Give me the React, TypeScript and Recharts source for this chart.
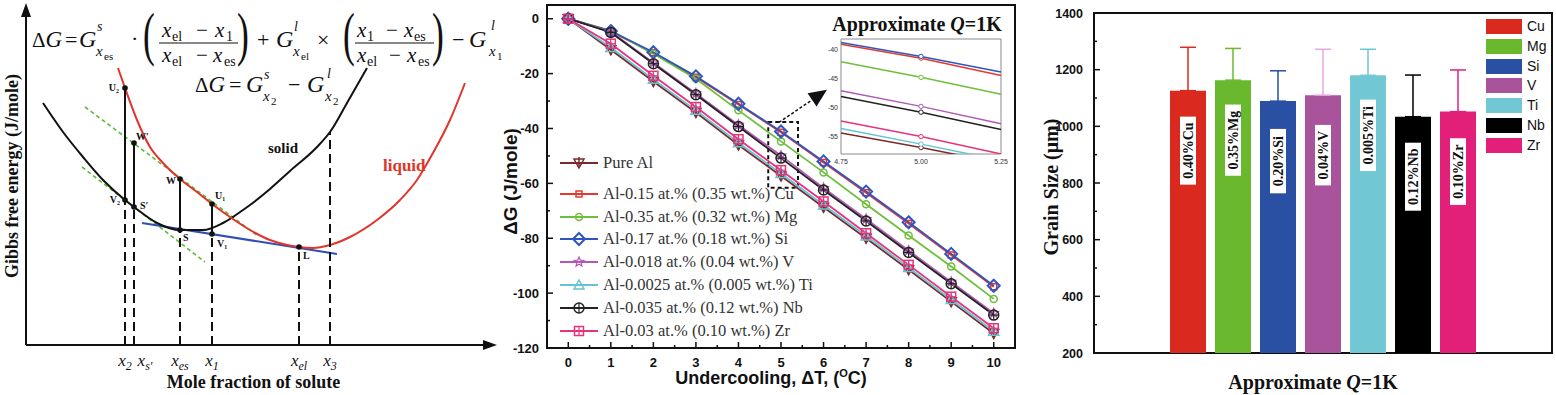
import React from "react";
import {
  Bar,
  BarChart,
  ComposedChart,
  Customized,
  ErrorBar,
  LabelList,
  Line,
  LineChart,
  ReferenceArea,
  ReferenceDot,
  ReferenceLine,
  XAxis,
  YAxis
} from "recharts";

document.body.style.margin = "0";

const SERIF = '"Liberation Serif", "Times New Roman", serif';
const SANS = '"Liberation Sans", Arial, sans-serif';

// ---------- left: schematic Gibbs energy curves (sketch units) ----------
const solidCurve = [
  [17, 242], [37, 213], [57, 188], [77, 165], [99, 145], [108, 138], [131, 122], [154, 115],
  [177, 115], [197, 122], [217, 135], [224, 140], [244, 156], [264, 174], [291, 198], [304, 213],
  [321, 242], [341, 277]
];
const liquidCurve = [
  [92, 277], [99, 257], [111, 225], [124, 198], [137, 182], [154, 166], [171, 153], [186, 141],
  [204, 128], [224, 115], [244, 105], [257, 101], [273, 98], [287, 97], [304, 100], [324, 108],
  [351, 125], [374, 145], [391, 165], [407, 192], [424, 225], [439, 262]
];
const commonTangent = [[116, 122], [311, 91]];
const tangentUpper = [[59, 238], [232, 109]];
const tangentLower = [[56, 178], [179, 83]];

const compositions = [99, 108, 154, 186, 273, 304];
const compositionSubs = ["2", "s′", "es", "1", "el", "3"];
const dropTops = [145, 138, 115, 111, 98, 213];
const tieXs = [99, 108, 154, 186];
const tieTops = [257, 202, 166, 141];
const tieBottoms = [145, 138, 115, 111];

const pointNames = ["U₂", "W′", "V₂", "S′", "W", "S", "U₁", "V₁", "L"];
const pointXs = [99, 108, 99, 108, 154, 154, 186, 186, 273];
const pointYs = [257, 202, 145, 138, 166, 115, 141, 111, 98];
// label placement next to each point: dx, dy, anchor
const pointLabelPos: [number, number, string][] = [
  [-6, 3, "end"], [2, -3, "start"], [-5, 3, "end"], [6, 2, "start"], [-4, 5, "end"],
  [3, 11, "start"], [3, -5, "start"], [5, 13, "start"], [4, 12, "start"]
];

// ---------- middle: ΔG vs undercooling ----------
const deltaT = [0, 1, 2, 3, 4, 5, 6, 7, 8, 9, 10];
const dgPureAl = [0, -11.3, -22.9, -34.2, -46.0, -57.3, -68.7, -80.0, -91.5, -103.1, -114.7];
const dgCu = [0, -4.7, -12.4, -21.3, -31.3, -41.4, -52.4, -63.4, -74.6, -86.1, -97.7];
const dgMg = [0, -4.3, -12.8, -21.9, -33.4, -44.7, -56.0, -67.6, -79.0, -90.3, -102.1];
const dgSi = [0, -4.5, -12.2, -21.0, -31.0, -41.1, -52.0, -63.0, -74.2, -85.7, -97.3];
const dgV = [0, -4.8, -16.0, -27.2, -38.7, -49.9, -61.7, -73.0, -84.5, -95.9, -107.3];
const dgTi = [0, -10.5, -22.1, -33.4, -45.2, -56.4, -67.9, -79.2, -90.7, -102.3, -113.9];
const dgNb = [0, -5.0, -16.4, -27.7, -39.3, -50.8, -62.4, -73.7, -85.2, -96.6, -108.0];
const dgZr = [0, -9.1, -20.8, -32.2, -43.9, -55.2, -66.6, -78.2, -89.7, -101.3, -112.8];

const dtTicks = [0, 0.5, 1, 1.5, 2, 2.5, 3, 3.5, 4, 4.5, 5, 5.5, 6, 6.5, 7, 7.5, 8, 8.5, 9, 9.5, 10];
const dgTicks = [-120, -110, -100, -90, -80, -70, -60, -50, -40, -30, -20, -10, 0];

// zoomed inset around ΔT = 5
const insetT = [4.75, 5.0, 5.25];
const insetPureAl = [-54.4, -56.9, -59.6];
const insetCu = [-39.1, -41.5, -44.5];
const insetMg = [-42.1, -44.8, -47.7];
const insetSi = [-38.8, -41.2, -43.9];
const insetV = [-47.1, -49.8, -52.8];
const insetTi = [-53.6, -56.3, -59.1];
const insetNb = [-48.1, -50.8, -53.8];
const insetZr = [-52.3, -55.0, -58.0];
const insetYTicks = [-55, -50, -45, -40];
const insetXTicks = [4.75, 5.0, 5.25];

const alloys = [
  { key: "pureAl", name: "Pure Al", color: "#7B2A2A", marker: "triDown", main: dgPureAl, inset: insetPureAl },
  { key: "cu", name: "Al-0.15 at.% (0.35 wt.%) Cu", color: "#E3392E", marker: "square", main: dgCu, inset: insetCu },
  { key: "mg", name: "Al-0.35 at.% (0.32 wt.%) Mg", color: "#6DBF3C", marker: "circle", main: dgMg, inset: insetMg },
  { key: "si", name: "Al-0.17 at.% (0.18 wt.%) Si", color: "#2F55C0", marker: "diamond", main: dgSi, inset: insetSi },
  { key: "v", name: "Al-0.018 at.% (0.04 wt.%) V", color: "#B05AB4", marker: "star", main: dgV, inset: insetV },
  { key: "ti", name: "Al-0.0025 at.% (0.005 wt.%) Ti", color: "#62C4D4", marker: "triangle", main: dgTi, inset: insetTi },
  { key: "nb", name: "Al-0.035 at.% (0.12 wt.%) Nb", color: "#222222", marker: "circlePlus", main: dgNb, inset: insetNb },
  { key: "zr", name: "Al-0.03 at.% (0.10 wt.%) Zr", color: "#E8327C", marker: "squarePlus", main: dgZr, inset: insetZr }
];
const legendRowY = [163, 194, 217, 239, 262, 285, 308, 331];

// ---------- right: grain size bars ----------
const elements = ["Cu", "Mg", "Si", "V", "Ti", "Nb", "Zr"];
const grainSize = [1126, 1163, 1089, 1110, 1180, 1034, 1052];
const grainErr = [153, 112, 107, 162, 92, 147, 147];
const grainLabels = ["0.40%Cu", "0.35%Mg", "0.20%Si", "0.04%V", "0.005%Ti", "0.12%Nb", "0.10%Zr"];
const grainTicks = [200, 300, 400, 500, 600, 700, 800, 900, 1000, 1100, 1200, 1300, 1400];
const barColors = ["#DA2A20", "#6AB82E", "#2950A3", "#A8539C", "#71C7D3", "#000000", "#E2207A"];
const errColors = ["#DA2A20", "#6AB82E", "#2950A3", "#E9A6E2", "#71C7D3", "#000000", "#E2207A"];

// one table keyed by composition, every curve in its own column (gaps bridged by connectNulls)
const gibbsCurves: Record<string, number[][]> = {
  solid: solidCurve,
  liquid: liquidCurve,
  tangent: commonTangent,
  upper: tangentUpper,
  lower: tangentLower
};
const gibbsRows = (() => {
  const byX = new Map<number, any>();
  Object.entries(gibbsCurves).forEach(([key, list]) =>
    list.forEach(([x, y]) => {
      const row = byX.get(x) ?? { x };
      row[key] = y;
      byX.set(x, row);
    })
  );
  return [...byX.values()].sort((a, b) => a.x - b.x);
})();

function Marker({ kind, cx, cy, color, s = 1 }: any) {
  const c = { fill: "none", stroke: color, strokeWidth: 1.5 };
  switch (kind) {
    case "triDown":
      return (
        <g>
          <polygon points={`${cx - 5 * s},${cy - 4 * s} ${cx + 5 * s},${cy - 4 * s} ${cx},${cy + 5 * s}`} {...c} />
          <line x1={cx} y1={cy - 6 * s} x2={cx} y2={cy + 5 * s} stroke={color} strokeWidth={1.5} />
        </g>
      );
    case "square":
      return <rect x={cx - 3 * s} y={cy - 3 * s} width={6 * s} height={6 * s} {...c} />;
    case "circle":
      return <circle cx={cx} cy={cy} r={3.5 * s} {...c} />;
    case "diamond":
      return (
        <polygon
          points={`${cx},${cy - 6 * s} ${cx + 6 * s},${cy} ${cx},${cy + 6 * s} ${cx - 6 * s},${cy}`}
          {...c}
          strokeWidth={2}
        />
      );
    case "star": {
      const p: string[] = [];
      for (let k = 0; k < 10; k++) {
        const r = (k % 2 === 0 ? 5 : 2.2) * s;
        const a = -Math.PI / 2 + (k * Math.PI) / 5;
        p.push(`${cx + r * Math.cos(a)},${cy + r * Math.sin(a)}`);
      }
      return <polygon points={p.join(" ")} {...c} strokeWidth={1.2} />;
    }
    case "triangle":
      return <polygon points={`${cx},${cy - 5 * s} ${cx + 5 * s},${cy + 4 * s} ${cx - 5 * s},${cy + 4 * s}`} {...c} />;
    case "circlePlus":
      return (
        <g>
          <circle cx={cx} cy={cy} r={5 * s} {...c} />
          <line x1={cx - 5 * s} x2={cx + 5 * s} y1={cy} y2={cy} stroke={color} strokeWidth={1.2} />
          <line x1={cx} x2={cx} y1={cy - 5 * s} y2={cy + 5 * s} stroke={color} strokeWidth={1.2} />
        </g>
      );
    case "squarePlus":
      return (
        <g>
          <rect x={cx - 4.5 * s} y={cy - 4.5 * s} width={9 * s} height={9 * s} {...c} />
          <line x1={cx - 4.5 * s} x2={cx + 4.5 * s} y1={cy} y2={cy} stroke={color} strokeWidth={1.2} />
          <line x1={cx} x2={cx} y1={cy - 4.5 * s} y2={cy + 4.5 * s} stroke={color} strokeWidth={1.2} />
        </g>
      );
    default:
      return null;
  }
}

const arrowShape = (color: string, width: number, head: number, half: number, dash?: string) => (p: any) => {
  const { x1, y1, x2, y2 } = p;
  const len = Math.hypot(x2 - x1, y2 - y1) || 1;
  const ux = (x2 - x1) / len;
  const uy = (y2 - y1) / len;
  const bx = x2 - ux * head;
  const by = y2 - uy * head;
  return (
    <g>
      <line x1={x1} y1={y1} x2={bx} y2={by} stroke={color} strokeWidth={width} strokeDasharray={dash} />
      <polygon
        points={`${x2},${y2} ${bx - uy * half},${by + ux * half} ${bx + uy * half},${by - ux * half}`}
        fill={color}
      />
    </g>
  );
};

// ---------- left panel ----------
function GibbsFormulas() {
  const t = { fontFamily: SERIF, fill: "#111" };
  const G = (x: number, y: number) => (
    <text x={x} y={y} fontSize={24} fontStyle="italic" {...t}>G</text>
  );
  const small = (x: number, y: number, s: string, italic = false, size = 14) => (
    <text x={x} y={y} fontSize={size} fontStyle={italic ? "italic" : "normal"} {...t}>{s}</text>
  );
  const paren = (x: number, s: string) => (
    <text transform={`translate(${x},54) scale(0.6,1)`} fontSize={59} {...t}>{s}</text>
  );
  return (
    <g>
      {/* ΔG = G^s_xes · (..) + G^l_xel × (..) − G^l_x1 */}
      <text x={32} y={47} fontSize={21} {...t}>Δ<tspan fontStyle="italic" fontSize={23}>G</tspan></text>
      <text x={65} y={47} fontSize={22} {...t}>=</text>
      {G(79, 47)}
      {small(97, 31, "s", true)}
      {small(96, 56, "x", true, 15)}
      {small(104, 60, "es", false, 11)}
      <text x={131} y={46} fontSize={22} {...t}>·</text>
      {paren(143, "(")}
      {small(162, 37, "x", true, 21)}
      {small(172, 41, "el", false, 14)}
      <text x={196} y={37} fontSize={21} {...t}>−</text>
      {small(215, 37, "x", true, 21)}
      {small(226, 41, "1", false, 14)}
      <line x1={159} x2={238} y1={43} y2={43} stroke="#111" strokeWidth={1.2} />
      {small(162, 62, "x", true, 21)}
      {small(172, 66, "el", false, 14)}
      <text x={196} y={62} fontSize={21} {...t}>−</text>
      {small(213, 62, "x", true, 21)}
      {small(224, 66, "es", false, 14)}
      {paren(237, ")")}
      <text x={257} y={47} fontSize={22} {...t}>+</text>
      {G(276, 47)}
      {small(294, 31, "l", true)}
      {small(293, 56, "x", true, 15)}
      {small(301, 60, "el", false, 11)}
      <text x={317} y={47} fontSize={22} {...t}>×</text>
      {paren(343, "(")}
      {small(357, 37, "x", true, 21)}
      {small(367, 41, "1", false, 14)}
      <text x={386} y={37} fontSize={21} {...t}>−</text>
      {small(404, 37, "x", true, 21)}
      {small(414, 41, "es", false, 14)}
      <line x1={355} x2={434} y1={43} y2={43} stroke="#111" strokeWidth={1.2} />
      {small(357, 62, "x", true, 21)}
      {small(367, 66, "el", false, 14)}
      <text x={389} y={62} fontSize={21} {...t}>−</text>
      {small(407, 62, "x", true, 21)}
      {small(418, 66, "es", false, 14)}
      {paren(432, ")")}
      <text x={452} y={47} fontSize={22} {...t}>−</text>
      {G(469, 47)}
      {small(491, 30, "l", true)}
      {small(489, 56, "x", true, 15)}
      {small(497, 60, "1", false, 11)}

      {/* ΔG = G^s_x2 − G^l_x2 */}
      <text x={195} y={92} fontSize={21} {...t}>Δ<tspan fontStyle="italic" fontSize={23}>G</tspan></text>
      <text x={229} y={92} fontSize={22} {...t}>=</text>
      {G(246, 92)}
      {small(264, 79, "s", true)}
      {small(263, 101, "x", true, 15)}
      {small(271, 105, "2", false, 11)}
      <text x={288} y={92} fontSize={22} {...t}>−</text>
      {G(307, 92)}
      {small(327, 78, "l", true)}
      {small(325, 101, "x", true, 15)}
      {small(333, 105, "2", false, 11)}
    </g>
  );
}

const GibbsTick = (p: any) => {
  const i = compositions.indexOf(p.payload.value);
  const shift = i === 1 ? 11 : 0;
  return (
    <text x={p.x + shift} y={p.y + 21} textAnchor="middle" fontFamily={SERIF} fontSize={17} fontStyle="italic" fill="#111">
      x<tspan fontSize={12} dy={4}>{compositionSubs[i]}</tspan>
    </text>
  );
};

function GibbsPanel() {
  return (
    <ComposedChart width={520} height={395} data={gibbsRows} margin={{ top: 3, right: 23, bottom: 0, left: 0 }}>
      <XAxis
        type="number"
        dataKey="x"
        domain={[0, 471]}
        ticks={compositions}
        interval={0}
        height={50}
        axisLine={false}
        tickLine={false}
        tickSize={0}
        tickMargin={0}
        tick={GibbsTick}
        label={(p: any) => (
          <text
            x={p.viewBox.x + p.viewBox.width / 2 - 8}
            y={p.viewBox.y + 43}
            textAnchor="middle"
            fontFamily={SERIF}
            fontWeight="bold"
            fontSize={18}
            fill="#111"
          >
            Mole fraction of solute
          </text>
        )}
      />
      <YAxis
        type="number"
        domain={[0, 342]}
        width={26}
        axisLine={false}
        tickLine={false}
        tick={false}
        label={(p: any) => (
          <text
            transform={`translate(${p.viewBox.x + 12},176) rotate(-90)`}
            textAnchor="middle"
            dy={6}
            fontFamily={SERIF}
            fontWeight="bold"
            fontSize={18}
            fill="#111"
          >
            Gibbs free energy (J/mole)
          </text>
        )}
      />
      <Line dataKey="upper" connectNulls stroke="#5DBB3A" strokeWidth={1.6} strokeDasharray="4 3" dot={false} isAnimationActive={false} />
      <Line dataKey="lower" connectNulls stroke="#5DBB3A" strokeWidth={1.6} strokeDasharray="4 3" dot={false} isAnimationActive={false} />
      <Line dataKey="tangent" connectNulls stroke="#2F4FB5" strokeWidth={2} dot={false} isAnimationActive={false} />
      <Line dataKey="solid" connectNulls type="monotone" stroke="#111" strokeWidth={2} dot={false} isAnimationActive={false} />
      <Line dataKey="liquid" connectNulls type="monotone" stroke="#E0352B" strokeWidth={2} dot={false} isAnimationActive={false} />

      {compositions.map((c, i) => (
        <ReferenceLine
          key={`drop-${c}`}
          segment={[{ x: c, y: 0 }, { x: c, y: dropTops[i] }]}
          stroke="#111"
          strokeWidth={2}
          strokeDasharray="9 5"
        />
      ))}
      {tieXs.map((c, i) => (
        <ReferenceLine
          key={`tie-${c}`}
          segment={[{ x: c, y: tieBottoms[i] }, { x: c, y: tieTops[i] }]}
          stroke="#111"
          strokeWidth={2}
        />
      ))}
      <ReferenceLine segment={[{ x: 0, y: 0 }, { x: 471, y: 0 }]} shape={arrowShape("#111", 2, 14, 5)} />
      <ReferenceLine segment={[{ x: 0, y: 0 }, { x: 0, y: 342 }]} shape={arrowShape("#111", 2, 14, 5)} />

      {pointNames.map((name, i) => (
        <ReferenceDot
          key={`pt-${i}`}
          x={pointXs[i]}
          y={pointYs[i]}
          r={3}
          shape={(p: any) => (
            <g>
              <circle cx={p.cx} cy={p.cy} r={2.8} fill="#111" />
              <text
                x={p.cx + pointLabelPos[i][0]}
                y={p.cy + pointLabelPos[i][1]}
                textAnchor={pointLabelPos[i][2] as any}
                fontFamily={SERIF}
                fontWeight="bold"
                fontSize={10}
                fill="#111"
              >
                {name}
              </text>
            </g>
          )}
        />
      ))}
      <ReferenceDot
        x={242}
        y={192}
        r={1}
        shape={(p: any) => (
          <text x={p.cx} y={p.cy} fontFamily={SERIF} fontWeight="bold" fontSize={15} fill="#111">solid</text>
        )}
      />
      <ReferenceDot
        x={357}
        y={174}
        r={1}
        shape={(p: any) => (
          <text x={p.cx} y={p.cy} fontFamily={SERIF} fontWeight="bold" fontSize={17} fill="#E0352B">liquid</text>
        )}
      />
      <Customized component={GibbsFormulas} />
    </ComposedChart>
  );
}

// ---------- middle panel ----------
const dgRows = deltaT.map((t, i) => {
  const row: any = { t };
  alloys.forEach((a) => (row[a.key] = a.main[i]));
  return row;
});
const insetRows = insetT.map((t, i) => {
  const row: any = { t };
  alloys.forEach((a) => (row[a.key] = a.inset[i]));
  return row;
});

const DtTick = (p: any) => {
  const v = p.payload.value;
  const major = Number.isInteger(v);
  return (
    <g>
      <line x1={p.x} x2={p.x} y1={p.y} y2={p.y - (major ? 6 : 3)} stroke="#111" strokeWidth={1.5} />
      {major && (
        <text x={p.x} y={p.y + 19} textAnchor="middle" fontFamily={SANS} fontWeight="bold" fontSize={13} fill="#111">
          {v}
        </text>
      )}
    </g>
  );
};

const DgTick = (p: any) => {
  const v = p.payload.value;
  const major = v % 20 === 0;
  return (
    <g>
      <line x1={p.x} x2={p.x + (major ? 6 : 3)} y1={p.y} y2={p.y} stroke="#111" strokeWidth={1.5} />
      {major && (
        <text x={p.x - 8} y={p.y + 4.5} textAnchor="end" fontFamily={SANS} fontWeight="bold" fontSize={13} fill="#111">
          {v}
        </text>
      )}
    </g>
  );
};

function UndercoolingPanel() {
  return (
    <LineChart width={540} height={395} data={dgRows} margin={{ top: 5, right: 25, bottom: 0, left: 0 }}>
      <XAxis
        type="number"
        dataKey="t"
        domain={[-0.5, 10.5]}
        ticks={dtTicks}
        interval={0}
        height={47}
        axisLine={false}
        tickLine={false}
        tickSize={0}
        tickMargin={0}
        tick={DtTick}
        label={(p: any) => (
          <text
            x={p.viewBox.x + p.viewBox.width / 2 - 10}
            y={p.viewBox.y + 36}
            textAnchor="middle"
            fontFamily={SANS}
            fontWeight="bold"
            fontSize={18}
            fill="#111"
          >
            Undercooling, ΔT, (<tspan dy={-7} fontSize={11}>O</tspan>
            <tspan dy={7}>C)</tspan>
          </text>
        )}
      />
      <YAxis
        type="number"
        domain={[-120, 5]}
        ticks={dgTicks}
        interval={0}
        width={47}
        axisLine={false}
        tickLine={false}
        tickSize={0}
        tickMargin={0}
        tick={DgTick}
        label={(p: any) => (
          <text
            transform={`translate(${p.viewBox.x + 10},${p.viewBox.y + p.viewBox.height / 2 + 5}) rotate(-90)`}
            textAnchor="middle"
            dy={7}
            fontFamily={SANS}
            fontWeight="bold"
            fontSize={19}
            fill="#111"
          >
            ΔG (J/mole)
          </text>
        )}
      />
      <ReferenceArea x1={-0.5} x2={10.5} y1={-120} y2={5} fill="none" stroke="#111" strokeWidth={2} />
      <ReferenceArea x1={4.7} x2={5.4} y1={-61.6} y2={-37.6} fill="none" stroke="#111" strokeWidth={2} strokeDasharray="4 3" />
      <ReferenceLine
        segment={[{ x: 4.95, y: -37.8 }, { x: 6.08, y: -25.9 }]}
        shape={arrowShape("#111", 1.5, 18, 8, "3 2")}
      />
      {alloys.map((a) => (
        <Line
          key={a.key}
          dataKey={a.key}
          name={a.name}
          stroke={a.color}
          strokeWidth={1.8}
          isAnimationActive={false}
          dot={(p: any) => <Marker key={`${a.key}-${p.index}`} kind={a.marker} cx={p.cx} cy={p.cy} color={a.color} />}
        />
      ))}
    </LineChart>
  );
}

function InsetTitle() {
  return (
    <text x={102} y={23} textAnchor="middle" fontFamily={SERIF} fontWeight="bold" fontSize={20} fill="#111">
      Approximate <tspan fontStyle="italic">Q</tspan>=1K
    </text>
  );
}

function InsetPanel() {
  return (
    <LineChart width={200} height={162} data={insetRows} margin={{ top: 31, right: 14, bottom: 0, left: 0 }}>
      <XAxis
        type="number"
        dataKey="t"
        domain={[4.75, 5.25]}
        ticks={insetXTicks}
        interval={0}
        height={16}
        axisLine={false}
        tickLine={false}
        tickSize={0}
        tickMargin={5}
        tickFormatter={(v: number) => v.toFixed(2)}
        tick={{ fontSize: 7, fontFamily: SANS, fill: "#333" }}
      />
      <YAxis
        type="number"
        domain={[-58, -38.2]}
        allowDataOverflow
        ticks={insetYTicks}
        interval={0}
        width={26}
        axisLine={false}
        tickLine={false}
        tickSize={0}
        tickMargin={3}
        tick={{ fontSize: 7, fontFamily: SANS, fill: "#333" }}
      />
      <ReferenceArea x1={4.75} x2={5.25} y1={-58} y2={-38.2} fill="#fff" fillOpacity={1} stroke="#8a8a8a" strokeWidth={1} />
      {alloys.map((a) => (
        <Line
          key={a.key}
          dataKey={a.key}
          stroke={a.color}
          strokeWidth={1.5}
          isAnimationActive={false}
          dot={(p: any) =>
            p.payload.t === 5 ? (
              <circle key={`${a.key}-${p.index}`} cx={p.cx} cy={p.cy} r={2.2} fill="#fff" stroke={a.color} strokeWidth={1} />
            ) : (
              <g key={`${a.key}-${p.index}`} />
            )
          }
        />
      ))}
      <Customized component={InsetTitle} />
    </LineChart>
  );
}

function AlloyLegend() {
  return (
    <>
      {alloys.map((a, i) => (
        <div
          key={a.key}
          style={{
            position: "absolute",
            left: 560,
            top: legendRowY[i] - 9,
            height: 18,
            display: "flex",
            alignItems: "center",
            whiteSpace: "nowrap"
          }}
        >
          <svg width={38} height={18}>
            <line x1={0} x2={38} y1={9} y2={9} stroke={a.color} strokeWidth={1.8} />
            <Marker kind={a.marker} cx={19} cy={9} color={a.color} />
          </svg>
          <span style={{ marginLeft: 5, fontFamily: SERIF, fontSize: 16.5, color: "#333", lineHeight: "18px" }}>
            {a.name}
          </span>
        </div>
      ))}
    </>
  );
}

// ---------- right panel ----------
const grainRow: any = { group: "Approximate Q=1K" };
elements.forEach((el, i) => {
  grainRow[el] = grainSize[i];
  grainRow[`${el}_err`] = [0, grainErr[i]];
  grainRow[`${el}_lbl`] = grainLabels[i];
});

const tagWidth = (s: string) =>
  s.split("").reduce((w, ch) => {
    if (/[0-9]/.test(ch)) return w + 7;
    if (ch === ".") return w + 3.5;
    if (ch === "%") return w + 14;
    if (ch === "i") return w + 3.9;
    if (ch === "r") return w + 6.2;
    if (/[A-Z]/.test(ch)) return w + (ch === "M" ? 13.2 : 10);
    return w + 7.5;
  }, 0);

const GrainTag = (p: any) => {
  const { x, y, width, value } = p;
  if (value == null || x == null) return null;
  const cx = x + width / 2;
  const cy = y + 60;
  const h = tagWidth(String(value)) + 12;
  return (
    <g>
      <rect x={cx - 8} y={cy - h / 2} width={16} height={h} fill="#fff" />
      <text
        transform={`translate(${cx},${cy}) rotate(-90)`}
        textAnchor="middle"
        dy={5}
        fontFamily={SERIF}
        fontWeight="bold"
        fontSize={14}
        fill="#111"
      >
        {value}
      </text>
    </g>
  );
};

const GrainTick = (p: any) => {
  const v = p.payload.value;
  const major = v % 200 === 0;
  return (
    <g>
      <line x1={p.x} x2={p.x + (major ? 6 : 3)} y1={p.y} y2={p.y} stroke="#111" strokeWidth={1.5} />
      {major && (
        <text x={p.x - 11} y={p.y + 4.5} textAnchor="end" fontFamily={SANS} fontWeight="bold" fontSize={12.5} fill="#111">
          {v}
        </text>
      )}
    </g>
  );
};

function GrainPanel() {
  return (
    <BarChart width={516} height={395} data={[grainRow]} barGap={9} margin={{ top: 13, right: 4, bottom: 0, left: 0 }}>
      <XAxis
        dataKey="group"
        height={42}
        axisLine={false}
        tickLine={false}
        tick={false}
        label={(p: any) => (
          <text
            x={p.viewBox.x + p.viewBox.width / 2 - 10}
            y={p.viewBox.y + 36}
            textAnchor="middle"
            fontFamily={SERIF}
            fontWeight="bold"
            fontSize={20}
            fill="#111"
          >
            Approximate <tspan fontStyle="italic">Q</tspan>=1K
          </text>
        )}
      />
      <YAxis
        type="number"
        domain={[200, 1400]}
        ticks={grainTicks}
        interval={0}
        width={54}
        axisLine={false}
        tickLine={false}
        tickSize={0}
        tickMargin={0}
        tick={GrainTick}
        label={(p: any) => (
          <text
            transform={`translate(${p.viewBox.x + 11},187) rotate(-90)`}
            textAnchor="middle"
            dy={7}
            fontFamily={SERIF}
            fontWeight="bold"
            fontSize={20}
            fill="#111"
          >
            Grain Size (μm)
          </text>
        )}
      />
      {elements.map((el, i) => (
        <Bar key={el} dataKey={el} fill={barColors[i]} barSize={36} isAnimationActive={false}>
          <ErrorBar dataKey={`${el}_err`} width={8} stroke={errColors[i]} strokeWidth={1.5} direction="y" />
          <LabelList dataKey={`${el}_lbl`} content={GrainTag} />
        </Bar>
      ))}
      <ReferenceArea y1={200} y2={1400} fill="none" stroke="#111" strokeWidth={2} />
    </BarChart>
  );
}

function GrainLegend() {
  return (
    <>
      {elements.map((el, i) => (
        <div
          key={el}
          style={{
            position: "absolute",
            left: 1486,
            top: 19 + i * 19.8,
            height: 15,
            display: "flex",
            alignItems: "center"
          }}
        >
          <div style={{ width: 36, height: 15, background: barColors[i] }} />
          <span style={{ marginLeft: 5, fontFamily: SANS, fontSize: 14, color: "#111", lineHeight: "15px" }}>{el}</span>
        </div>
      ))}
    </>
  );
}

export default function App() {
  return (
    <div style={{ position: "relative", width: 1556, height: 395, background: "#fff", overflow: "hidden" }}>
      <div style={{ position: "absolute", left: 0, top: 0 }}>
        <GibbsPanel />
      </div>
      <div style={{ position: "absolute", left: 500, top: 0 }}>
        <UndercoolingPanel />
      </div>
      <div style={{ position: "absolute", left: 815, top: 8 }}>
        <InsetPanel />
      </div>
      <AlloyLegend />
      <div style={{ position: "absolute", left: 1040, top: 0 }}>
        <GrainPanel />
      </div>
      <GrainLegend />
    </div>
  );
}
